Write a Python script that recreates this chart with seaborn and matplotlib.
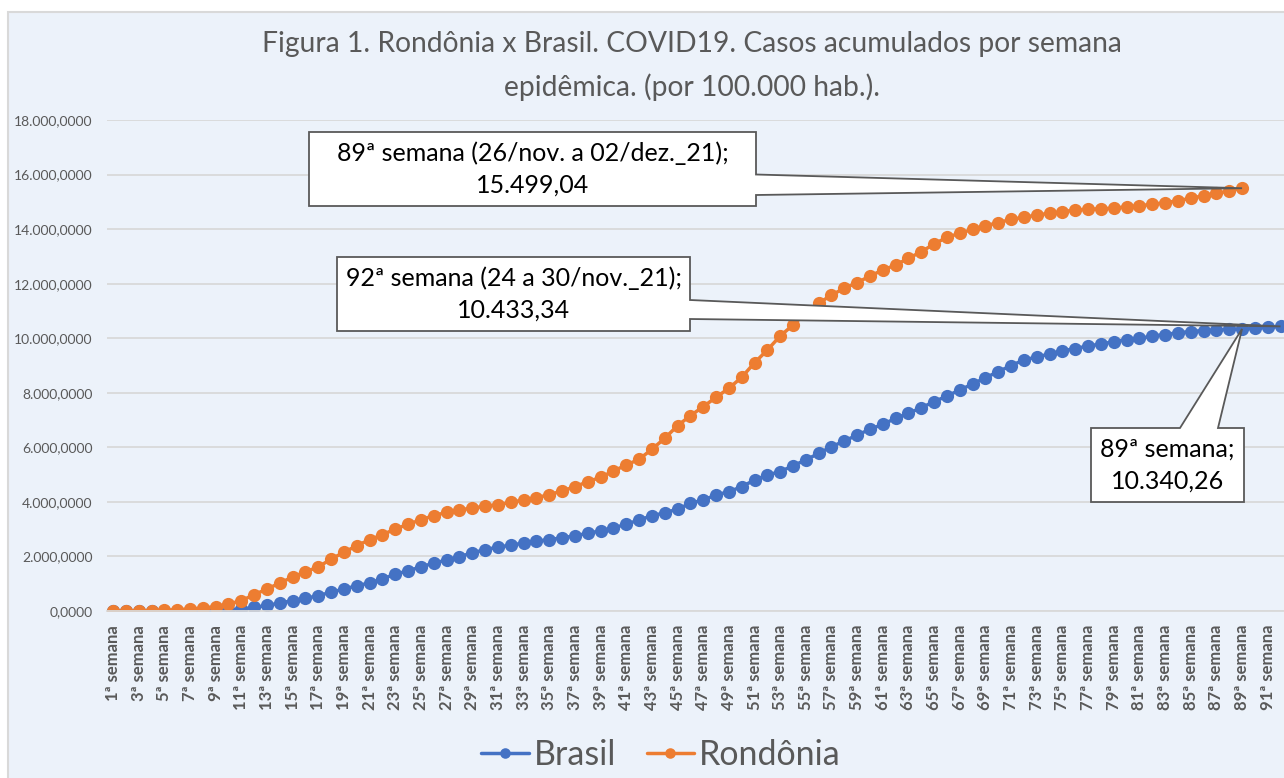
import matplotlib
matplotlib.use('Agg')
import matplotlib.pyplot as plt
import seaborn as sns
import pandas as pd
from matplotlib.patches import Polygon, Rectangle
from matplotlib.transforms import IdentityTransform
from matplotlib.ticker import FuncFormatter

# semanas epidemiologicas (1 a 92)
semanas = [f"{i}ª semana" for i in range(1, 93)]

# casos acumulados por 100.000 hab. - Brasil (92 semanas)
brasil = [0.0, 0.0, 0.1, 0.2, 0.9, 3.0, 8.0, 18.0, 33.0, 52.0,
          70, 130, 205, 290, 380, 460, 565, 688, 806, 924,
          1030, 1173, 1356, 1466, 1624, 1749, 1870, 1991, 2130, 2250,
          2340, 2415, 2490, 2560, 2620, 2680, 2757, 2848, 2940, 3043,
          3182, 3336, 3490, 3600, 3732, 3948, 4069, 4253, 4374, 4557,
          4800, 4986, 5107, 5327, 5536, 5781, 6023, 6232, 6452, 6661,
          6844, 7064, 7248, 7453, 7673, 7882, 8102, 8322, 8553, 8773,
          9000, 9202, 9312, 9422, 9531, 9623, 9715, 9788, 9872, 9946,
          9990, 10081, 10136, 10199, 10246, 10283, 10308, 10325, 10340.26, 10370,
          10400, 10433.34]

# casos acumulados por 100.000 hab. - Rondonia (89 semanas)
rondonia = [0, 5, 10, 15, 25, 45, 73, 110, 158, 257,
            378, 598, 806, 1026, 1246, 1440, 1613, 1906, 2151, 2394,
            2614, 2797, 3006, 3178, 3347, 3494, 3618, 3714, 3765, 3849,
            3897, 3985, 4069, 4154, 4264, 4399, 4557, 4740, 4901, 5132,
            5352, 5561, 5928, 6331, 6793, 7160, 7490, 7834, 8164, 8567,
            9100, 9568, 10081, 10485, 10925, 11280, 11585, 11830, 12036, 12281,
            12501, 12684, 12930, 13172, 13454, 13700, 13846, 13993, 14125, 14235,
            14360, 14433, 14517, 14580, 14638, 14700, 14726, 14749, 14763, 14822,
            14858, 14910, 14968, 15041, 15130, 15225, 15313, 15397, 15499.04]

df_br = pd.DataFrame({'semana': range(len(brasil)), 'casos': brasil})
df_ro = pd.DataFrame({'semana': range(len(rondonia)), 'casos': rondonia})

sns.set_style("white")
plt.rcParams['font.family'] = ['Lato', 'DejaVu Sans']

fundo = '#ECF2FA'
cinza = '#595959'
W, H = 1284, 778

fig = plt.figure(figsize=(W / 100, H / 100), dpi=100)
fig.patch.set_facecolor('white')
fig.add_artist(Rectangle((8 / W, -0.01), 1.0, (H - 12) / H + 0.01, transform=fig.transFigure,
                         fc=fundo, ec='#D9D9D9', lw=1.5, zorder=-1))

ax = fig.add_axes([106.6 / W, (H - 611) / H, 92 * 12.83 / W, 491 / H])
ax.set_facecolor(fundo)

sns.lineplot(data=df_br, x='semana', y='casos', ax=ax, color='#4472C4', marker='o',
             markersize=9.5, markeredgewidth=0, linewidth=2.5, label='Brasil')
sns.lineplot(data=df_ro, x='semana', y='casos', ax=ax, color='#ED7D31', marker='o',
             markersize=9.5, markeredgewidth=0, linewidth=2.5, label='Rondônia')

ax.set_xlim(-0.5, 91.5)
ax.set_ylim(0, 18000)
ax.set_yticks(range(0, 18001, 2000))
ax.yaxis.set_major_formatter(FuncFormatter(
    lambda v, p: f"{v:,.4f}".replace(',', 'X').replace('.', ',').replace('X', '.')))
ax.set_xticks(range(0, 92, 2))
ax.set_xticklabels(semanas[::2], rotation=90, fontweight='bold', fontsize=12, color=cinza)
ax.tick_params(axis='y', length=0, pad=10, labelsize=10, labelcolor=cinza)
ax.tick_params(axis='x', length=0, pad=10)
ax.yaxis.grid(True, color='#D9D9D9', lw=1.3)
ax.xaxis.grid(False)
for s in ['top', 'left', 'right']:
    ax.spines[s].set_visible(False)
ax.spines['bottom'].set_color('#D9D9D9')
ax.spines['bottom'].set_linewidth(1.3)
ax.set_xlabel('')
ax.set_ylabel('')

ax.legend(loc='center', bbox_to_anchor=(661 / W, 1 - 755 / H), bbox_transform=fig.transFigure,
          ncol=2, frameon=False, fontsize=24.5, labelcolor=cinza, handlelength=1.4,
          handletextpad=0.15, columnspacing=0.9, markerscale=0.8)

fig.text(692 / W, 1 - 66 / H,
         "Figura 1. Rondônia x Brasil. COVID19. Casos acumulados por semana\nepidêmica. (por 100.000 hab.).",
         ha='center', va='center', fontsize=20.3, color=cinza, linespacing=1.75)


# caixas de destaque (callouts) ligadas ao ponto do dado
def callout(box, base, idx, valor, texto, lado='right'):
    fig.canvas.draw()
    tx, ty = ax.transData.transform((idx, valor))
    x0, y0, x1, y1 = box
    if lado == 'right':
        pts = [(x0, y0), (x1, y0), (x1, base[0]), None, (x1, base[1]), (x1, y1), (x0, y1)]
    else:
        pts = [(x0, y0), (base[0], y0), None, (base[1], y0), (x1, y0), (x1, y1), (x0, y1)]
    disp = []
    for p in pts:
        if p is None:
            disp.append((tx, ty))
        else:
            disp.append((p[0], H - p[1]))
    fig.add_artist(Polygon(disp, closed=True, transform=IdentityTransform(),
                           fc='white', ec=cinza, lw=1.3, zorder=5))
    fig.text((x0 + x1) / 2 / W, 1 - (y0 + y1) / 2 / H, texto, ha='center', va='center',
             fontsize=18, color='black', linespacing=1.45, zorder=6)


callout((309, 132, 756, 206), (174.5, 195), 88, rondonia[88],
        "89ª semana (26/nov. a 02/dez._21);\n15.499,04")
callout((337, 257, 690, 331), (300, 319), 91, brasil[91],
        "92ª semana (24 a 30/nov._21);\n10.433,34")
callout((1091, 428, 1244, 502), (1180, 1218), 88, brasil[88],
        "89ª semana;\n10.340,26", lado='top')

fig.savefig('out.png', dpi=100)
